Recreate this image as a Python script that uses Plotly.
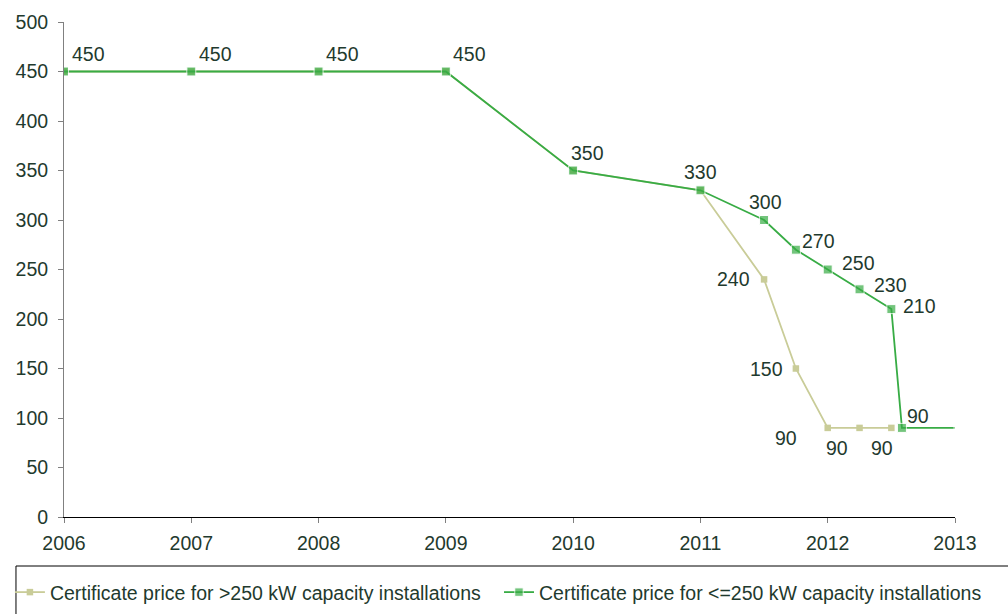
import plotly.graph_objects as go

# Data
years_small = [2006, 2007, 2008, 2009, 2010, 2011, 2011.5, 2011.75, 2012.0, 2012.25, 2012.5, 2012.583, 2013]
price_small = [450, 450, 450, 450, 350, 330, 300, 270, 250, 230, 210, 90, 90]
years_large = [2006, 2007, 2008, 2009, 2010, 2011, 2011.5, 2011.75, 2012.0, 2012.25, 2012.5]
price_large = [450, 450, 450, 450, 350, 330, 240, 150, 90, 90, 90]

name_large = "Certificate price for >250 kW capacity installations"
name_small = "Certificate price for <=250 kW capacity installations"
x_ticks = [2006, 2007, 2008, 2009, 2010, 2011, 2012, 2013]

# label offsets (px) for displayed labels
small_label_idx = list(range(12))
small_offsets = [(24, 18), (24, 18), (24, 18), (24, 18), (14, 18), (0, 18), (1, 18),
                 (23, 9), (31, 7), (31, 4), (28, 3), (16, 12)]
large_label_idx = [6, 7, 8, 9, 10]
large_offsets = [(-31, 0), (-29, 0), (-42, -10), (-23, -20), (-9, -20)]

TXT = "#1f3a2e"
FONT = "Liberation Sans, Arial, sans-serif"
GREEN = "#38ac45"
KHAKI = "#c9cc98"
FS = 19.5

fig = go.Figure()
fig.add_trace(go.Scatter(x=years_large, y=price_large, mode="lines+markers", name=name_large,
                         line=dict(color=KHAKI, width=1.8), legend="legend",
                         marker=dict(symbol="square", size=6.5, color=KHAKI)))
fig.add_trace(go.Scatter(x=years_small, y=price_small, mode="lines+markers", name=name_small,
                         line=dict(color=GREEN, width=1.8), legend="legend2",
                         marker=dict(symbol="square", size=[9] * 12 + [2], color=GREEN)))

ann = []
for i, (dx, dy) in zip(small_label_idx, small_offsets):
    ann.append(dict(x=years_small[i], y=price_small[i], text=str(price_small[i]), showarrow=False,
                    xshift=dx, yshift=dy, xanchor="center", yanchor="middle",
                    font=dict(size=FS, color=TXT, family=FONT)))
for i, (dx, dy) in zip(large_label_idx, large_offsets):
    ann.append(dict(x=years_large[i], y=price_large[i], text=str(price_large[i]), showarrow=False,
                    xshift=dx, yshift=dy, xanchor="center", yanchor="middle",
                    font=dict(size=FS, color=TXT, family=FONT)))

leg_common = dict(orientation="h", xanchor="left", yanchor="top", bgcolor="rgba(0,0,0,0)",
                  borderwidth=0, font=dict(size=FS, color=TXT, family=FONT))

fig.update_layout(
    width=1008, height=614,
    margin=dict(l=64, r=53, t=22, b=97, autoexpand=False),
    paper_bgcolor="white", plot_bgcolor="white",
    font=dict(family=FONT, size=FS, color=TXT),
    annotations=ann,
    showlegend=True,
    legend=dict(x=-0.0607, y=-0.113, **leg_common),
    legend2=dict(x=0.4882, y=-0.113, **leg_common),
    shapes=[dict(type="rect", xref="paper", yref="paper", x0=-0.0539, x1=1.2, y0=-0.099, y1=-0.3,
                 line=dict(color="#000000", width=1), fillcolor="rgba(0,0,0,0)", layer="below")],
)
fig.update_xaxes(range=[2006, 2013], tickvals=x_ticks, ticktext=[str(t) for t in x_ticks],
                 showgrid=False, zeroline=False, showline=True, linecolor="#000000", linewidth=1,
                 ticks="outside", ticklen=5, tickcolor="#808080", ticklabelstandoff=4,
                 tickfont=dict(size=FS, color=TXT, family=FONT))
fig.update_yaxes(range=[0, 500], dtick=50, showgrid=False, zeroline=False, showline=True,
                 linecolor="#808080", linewidth=1, ticks="outside", ticklen=5, tickcolor="#808080",
                 ticklabelstandoff=6,
                 tickfont=dict(size=FS, color=TXT, family=FONT))

fig.write_html("out.html")
